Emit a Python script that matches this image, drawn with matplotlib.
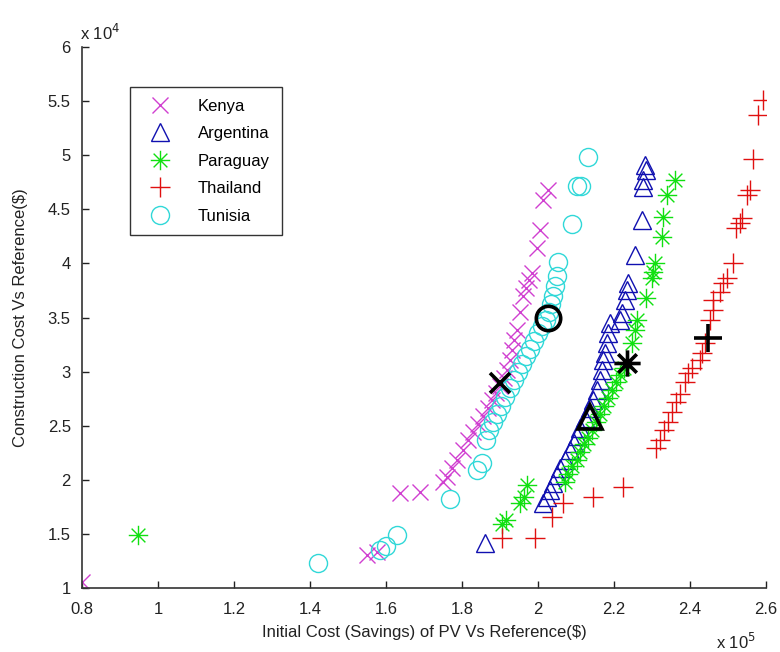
import numpy as np
import matplotlib
matplotlib.use('Agg')
import matplotlib.pyplot as plt
from matplotlib.path import Path

# x in units of 1e5 $, y in units of 1e4 $
kenya_x = [0.80, 1.55, 1.576, 1.637, 1.689, 1.75, 1.761, 1.774, 1.787, 1.803, 1.816,
           1.829, 1.842, 1.855, 1.868, 1.879, 1.889, 1.90, 1.911, 1.918, 1.926, 1.932,
           1.937, 1.945, 1.953, 1.961, 1.968, 1.976, 1.984, 1.997, 2.005, 2.013, 2.026]
kenya_y = [1.055, 1.305, 1.333, 1.878, 1.887, 1.98, 2.026, 2.109, 2.183, 2.275, 2.368,
           2.442, 2.516, 2.59, 2.664, 2.738, 2.802, 2.867, 2.941, 3.015, 3.107, 3.20,
           3.292, 3.384, 3.551, 3.699, 3.773, 3.847, 3.911, 4.142, 4.309, 4.586, 4.678]

argentina_x = [1.861, 2.013, 2.024, 2.032, 2.039, 2.05, 2.058, 2.071, 2.084, 2.095, 2.103,
               2.111, 2.124, 2.137, 2.145, 2.155, 2.163, 2.168, 2.171, 2.176, 2.182, 2.184,
               2.189, 2.216, 2.221, 2.229, 2.234, 2.237, 2.255, 2.274, 2.276, 2.276, 2.284, 2.282]
argentina_y = [1.416, 1.786, 1.841, 1.906, 1.970, 2.044, 2.109, 2.183, 2.275, 2.34, 2.405,
               2.479, 2.571, 2.664, 2.738, 2.83, 2.922, 3.015, 3.107, 3.172, 3.264, 3.357,
               3.449, 3.477, 3.542, 3.662, 3.754, 3.819, 4.078, 4.401, 4.706, 4.771, 4.863, 4.909]

paraguay_x = [0.947, 1.905, 1.916, 1.953, 1.963, 1.971, 2.071, 2.079, 2.089, 2.103, 2.111,
              2.121, 2.132, 2.142, 2.153, 2.163, 2.174, 2.184, 2.195, 2.205, 2.216, 2.226,
              2.247, 2.255, 2.261, 2.284, 2.30, 2.303, 2.308, 2.326, 2.329, 2.339, 2.361]
paraguay_y = [1.49, 1.59, 1.63, 1.786, 1.841, 1.952, 1.98, 2.054, 2.128, 2.183, 2.257,
              2.331, 2.386, 2.46, 2.534, 2.608, 2.682, 2.756, 2.83, 2.904, 2.969, 3.033,
              3.264, 3.384, 3.477, 3.68, 3.865, 3.92, 4.004, 4.244, 4.429, 4.632, 4.771]

thailand_x = [1.905, 1.992, 2.037, 2.066, 2.145, 2.224, 2.311, 2.321, 2.332, 2.342, 2.353,
              2.363, 2.374, 2.387, 2.395, 2.405, 2.426, 2.432, 2.439, 2.453, 2.461, 2.461,
              2.479, 2.487, 2.497, 2.513, 2.521, 2.532, 2.537, 2.55, 2.558, 2.566, 2.579, 2.592]
thailand_y = [1.462, 1.462, 1.656, 1.786, 1.841, 1.933, 2.294, 2.368, 2.46, 2.534, 2.627,
              2.719, 2.793, 2.904, 2.987, 3.033, 3.107, 3.172, 3.264, 3.477, 3.569, 3.662,
              3.736, 3.819, 3.865, 4.004, 4.327, 4.373, 4.42, 4.632, 4.678, 4.965, 5.372, 5.51]

tunisia_x = [1.421, 1.584, 1.60, 1.629, 1.768, 1.839, 1.853, 1.863, 1.871, 1.882, 1.892,
             1.903, 1.913, 1.926, 1.937, 1.947, 1.958, 1.968, 1.979, 1.989, 2.0, 2.011,
             2.021, 2.029, 2.034, 2.039, 2.045, 2.05, 2.053, 2.089, 2.103, 2.113, 2.132]
tunisia_y = [1.231, 1.351, 1.388, 1.49, 1.823, 2.091, 2.155, 2.368, 2.46, 2.534, 2.608,
             2.682, 2.765, 2.848, 2.922, 2.996, 3.07, 3.144, 3.209, 3.283, 3.357, 3.421,
             3.477, 3.551, 3.625, 3.699, 3.791, 3.884, 4.013, 4.364, 4.715, 4.715, 4.983]

# highlighted (selected) design for each country
sel_x = {"Kenya": 1.90, "Argentina": 2.137, "Paraguay": 2.234, "Thailand": 2.447, "Tunisia": 2.026}
sel_y = {"Kenya": 2.895, "Argentina": 2.58, "Paraguay": 3.08, "Thailand": 3.31, "Tunisia": 3.495}

x_ticks = [0.8, 1, 1.2, 1.4, 1.6, 1.8, 2, 2.2, 2.4, 2.6]
y_ticks = [1, 1.5, 2, 2.5, 3, 3.5, 4, 4.5, 5, 5.5, 6]

# MATLAB-style asterisk: plus and cross overlaid
r = np.sqrt(0.5)
asterisk = Path(
    [(-1, 0), (1, 0), (0, -1), (0, 1), (-r, -r), (r, r), (-r, r), (r, -r)],
    [Path.MOVETO, Path.LINETO] * 4,
)

series = [
    ("Kenya", kenya_x, kenya_y, "x", "#d040d0", 11),
    ("Argentina", argentina_x, argentina_y, "^", "#1010b0", 13),
    ("Paraguay", paraguay_x, paraguay_y, asterisk, "#10e010", 14),
    ("Thailand", thailand_x, thailand_y, "+", "#e01010", 15),
    ("Tunisia", tunisia_x, tunisia_y, "o", "#30d8d8", 13),
]

plt.rcParams["font.family"] = ["Liberation Sans", "DejaVu Sans"]

fig = plt.figure(figsize=(7.8, 6.52), dpi=100)
ax = fig.add_axes([0.105, 0.098, 0.877, 0.830])

for name, xs, ys, mk, col, ms in series:
    ax.plot(xs, ys, linestyle="none", marker=mk, markersize=ms, markeredgecolor=col,
            markerfacecolor="none", markeredgewidth=1.0, label=name)

for name, xs, ys, mk, col, ms in series:
    ax.plot([sel_x[name]], [sel_y[name]], linestyle="none", marker=mk, markersize=ms * 1.35,
            markeredgecolor="black", markerfacecolor="none", markeredgewidth=2.6)

ax.set_xlim(0.8, 2.6)
ax.set_ylim(1, 6)
ax.set_xticks(x_ticks)
ax.set_yticks(y_ticks)
ax.set_xticklabels([f"{v:g}" for v in x_ticks])
ax.set_yticklabels([f"{v:g}" for v in y_ticks])
ax.tick_params(direction="in", length=5, width=1, labelsize=12, colors="#222222")
ax.tick_params(axis="x", pad=10)
ax.tick_params(axis="y", pad=8)
ax.spines["top"].set_visible(False)
ax.spines["right"].set_visible(False)
for s in ("left", "bottom"):
    ax.spines[s].set_linewidth(1.2)
    ax.spines[s].set_color("#333333")

ax.set_xlabel("Initial Cost (Savings) of PV Vs Reference(\\$)", fontsize=12, color="#222222", labelpad=6)
ax.set_ylabel("Construction Cost Vs Reference(\\$)", fontsize=12, color="#222222", labelpad=14)

fig.text(0.103, 0.938, "x 10$^4$", fontsize=12, color="#222222")
fig.text(0.918, 0.004, "x 10$^5$", fontsize=12, color="#222222")

leg = ax.legend(loc="upper left", bbox_to_anchor=(0.07, 0.926), fontsize=12, frameon=True,
                fancybox=False, edgecolor="black", labelspacing=0.75, handletextpad=1.2,
                borderpad=0.7, handlelength=2.2, borderaxespad=0)
leg.get_frame().set_linewidth(1.0)

fig.savefig("out.png", dpi=100)
